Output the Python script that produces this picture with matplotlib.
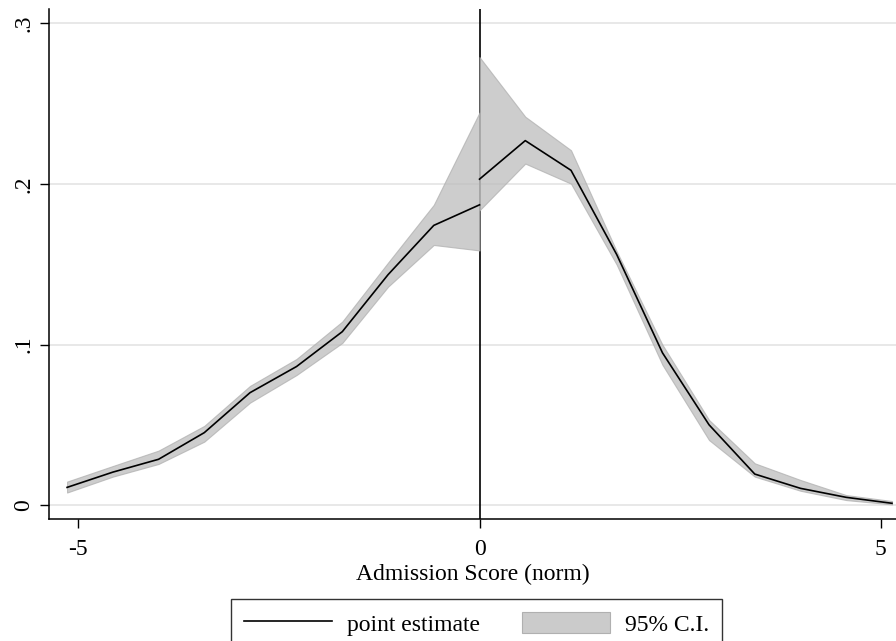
import numpy as np
import matplotlib
matplotlib.use("Agg")
import matplotlib.pyplot as plt
from matplotlib.patches import Patch
from matplotlib.lines import Line2D

plt.rcParams['font.family'] = ['Liberation Serif', 'DejaVu Serif']

# bins left / right of the cutoff
x_left = [-5.14, -4.57, -4.0, -3.43, -2.86, -2.28, -1.71, -1.14, -0.57, 0.0]
est_left = [0.011, 0.0205, 0.0285, 0.0451, 0.070, 0.0863, 0.108, 0.1435, 0.1742, 0.187]
lo_left = [0.0078, 0.0177, 0.0256, 0.0395, 0.0638, 0.081, 0.101, 0.136, 0.162, 0.1586]
hi_left = [0.0146, 0.0243, 0.0339, 0.0493, 0.0742, 0.091, 0.1143, 0.151, 0.187, 0.2445]

x_right = [0.0, 0.57, 1.14, 1.71, 2.28, 2.86, 3.43, 4.0, 4.57, 5.14]
est_right = [0.203, 0.227, 0.2085, 0.156, 0.0948, 0.050, 0.0193, 0.0104, 0.0048, 0.0011]
lo_right = [0.1836, 0.2127, 0.2002, 0.1497, 0.0873, 0.0405, 0.0177, 0.0089, 0.0031, 0.0004]
hi_right = [0.279, 0.2419, 0.221, 0.158, 0.0998, 0.053, 0.026, 0.0156, 0.0062, 0.0025]

xticks = [-5, 0, 5]
xticklabels = ['-5', '0', '5']
yticks = [0, 0.1, 0.2, 0.3]
yticklabels = ['0', '.1', '.2', '.3']

fig = plt.figure(figsize=(8.96, 6.41), dpi=100)
ax = fig.add_axes([0.0547, 0.1903, 0.9453, 0.7957])

band_face = '#bdbdbd'
band_edge = '#b0b0b0'

ax.axvline(0, color='black', lw=1.2, zorder=1)
for xs, lo, hi in [(x_left, lo_left, hi_left), (x_right, lo_right, hi_right)]:
    ax.fill_between(xs, lo, hi, facecolor=band_face, edgecolor=band_edge,
                    lw=0.8, alpha=0.75, zorder=2)
ax.plot(x_left, est_left, color='black', lw=1.2, zorder=3)
ax.plot(x_right, est_right, color='black', lw=1.2, zorder=3)

ax.set_xlim(-5.365, 5.19)
ax.set_ylim(-0.0087, 0.309)
ax.set_xticks(xticks)
ax.set_xticklabels(xticklabels)
ax.set_yticks(yticks)
ax.set_yticklabels(yticklabels, rotation=90, va='center')
ax.tick_params(axis='both', direction='out', length=6.5, width=1, labelsize=17, pad=4)
ax.tick_params(axis='x', pad=8)
ax.yaxis.grid(True, color='#e6e6e6', lw=1.3)
ax.set_axisbelow(True)
for s in ['top', 'right']:
    ax.spines[s].set_visible(False)
for s in ['left', 'bottom']:
    ax.spines[s].set_linewidth(1.1)
ax.set_xlabel('Admission Score (norm)', fontsize=17, labelpad=3)

handles = [Line2D([0], [0], color='black', lw=1.2),
           Patch(facecolor='#cbcbcb', edgecolor=band_edge, lw=0.8)]
leg = fig.legend(handles, ['point estimate', '95% C.I.'], loc='upper center',
                 bbox_to_anchor=(0.532, 1 - 599 / 641), ncol=2, fontsize=17,
                 frameon=True, fancybox=False, edgecolor='black',
                 handlelength=3.7, handleheight=1.0, columnspacing=1.8,
                 borderpad=0.55, handletextpad=0.65, borderaxespad=0)
leg.get_frame().set_linewidth(1.0)

fig.savefig('out.png', dpi=100)
